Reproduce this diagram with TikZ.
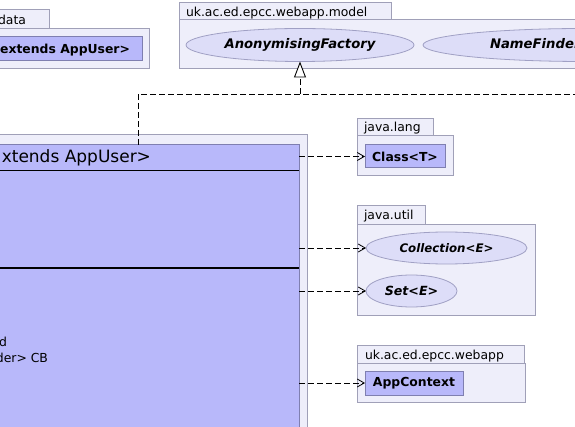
\documentclass[tikz,border=0pt]{standalone}
\usepackage{fontspec}
\setmainfont{DejaVu Sans}
\usetikzlibrary{arrows.meta,shapes.geometric}
\definecolor{pkgfill}{HTML}{EEEEFA}
\definecolor{pkgline}{HTML}{A0A0B8}
\definecolor{clsfill}{HTML}{B8B8FA}
\definecolor{clsline}{HTML}{7F7FB0}
\definecolor{elfill}{HTML}{DDDDF8}
\definecolor{elline}{HTML}{A0A0C4}
\newcommand\lblfont{\fontsize{12.4}{14}\selectfont}
\newcommand\hdrfont{\fontsize{17}{20}\selectfont}
\tikzset{
  pkg/.style={draw=pkgline, fill=pkgfill, line width=1pt, inner sep=0pt, outer sep=0pt, anchor=north west},
  cls/.style={draw=clsline, fill=clsfill, line width=1pt, inner sep=0pt, outer sep=0pt, font=\lblfont\bfseries},
  iface/.style={ellipse, draw=elline, fill=elfill, line width=0.8pt, inner sep=0pt, outer sep=0pt, minimum height=33pt, font=\lblfont\bfseries\itshape},
  txt/.style={inner sep=0pt, outer sep=0pt, font=\lblfont},
  dashline/.style={line width=0.9pt, dash pattern=on 6pt off 3pt},
  dep/.style={dashline, -{Straight Barb[length=7pt,width=8pt,line width=0.8pt]}},
  real/.style={dashline, -{Triangle[open,length=16pt,width=12pt,line width=0.9pt,fill=white]}},
  sep/.style={line width=1pt, black},
}
\begin{document}
\begin{tikzpicture}[x=1pt,y=-1pt]
\useasboundingbox (0,0) rectangle (575,427);
\clip (0,0) rectangle (575,427);
% top-left package (data)
\node[pkg, minimum width=249pt, minimum height=40pt] (pdata) at (-100,29) {};
\node[pkg, minimum width=109pt, minimum height=19pt] (tdata) at (-60,10) {};
\node[txt, anchor=base east] (ldata) at (26,25) {data};
\node[cls, minimum width=232pt, minimum height=24pt, anchor=north west] (cdata) at (-90,37) {};
\node[txt, font=\lblfont\bfseries, anchor=base east] (ncdata) at (130,53.5) {extends AppUser>};
% top-middle package (model)
\node[pkg, minimum width=421pt, minimum height=49pt] (pmodel) at (179,20) {};
\node[pkg, minimum width=212pt, minimum height=17pt] (tmodel) at (179,3) {};
\node[txt, anchor=base west] (lmodel) at (186,16.5) {uk.ac.ed.epcc.webapp.model};
\node[iface, minimum width=228pt, font=\fontsize{13.2}{15}\selectfont\bfseries\itshape] (anon) at (300,45) {AnonymisingFactory};
\node[iface, minimum width=322pt] (namef) at (584,45) {};
\node[txt, font=\fontsize{13.2}{15}\selectfont\bfseries\itshape, anchor=base west] (namefl) at (anon.base -| 490,0) {NameFinder};
% main package and class
\node[pkg, minimum width=507pt, minimum height=400pt] (pmain) at (-200,135) {};
\node[cls, minimum width=489pt, minimum height=400pt, anchor=north west] (main) at (-190,145) {};
\draw[sep] (main.west |- 0,171) -- (main.east |- 0,171);
\draw[sep, line width=1.6pt] (main.west |- 0,268) -- (main.east |- 0,268);
\node[txt, font=\hdrfont, anchor=base east] (mainhdr) at (151,163) {xtends AppUser>};
\node[txt, anchor=base east] (mainf1) at (7,346) {d};
\node[txt, anchor=base east] (mainf2) at (48,362) {der> CB};
% java.lang
\node[pkg, minimum width=96pt, minimum height=40pt] (plang) at (357,136) {};
\node[pkg, minimum width=76pt, minimum height=17pt] (tlang) at (357,119) {};
\node[txt, anchor=base west] (llang) at (364,131.7) {java.lang};
\node[cls, minimum width=80pt, minimum height=23pt] (classT) at (405,156.5) {Class<T>};
% java.util
\node[pkg, minimum width=178pt, minimum height=90pt] (putil) at (357,225) {};
\node[pkg, minimum width=68pt, minimum height=19pt] (tutil) at (357,206) {};
\node[txt, anchor=base west] (lutil) at (364,220) {java.util};
\node[iface, minimum width=161pt, minimum height=32pt, font=\fontsize{11.8}{14}\selectfont\bfseries\itshape] (coll) at (446.5,248) {Collection<E>};
\node[iface, minimum width=91pt, minimum height=32pt, font=\fontsize{12.6}{14}\selectfont\bfseries\itshape] (setE) at (411.5,291) {Set<E>};
% webapp
\node[pkg, minimum width=168pt, minimum height=39pt] (pweb) at (357,363) {};
\node[pkg, minimum width=167pt, minimum height=18pt] (tweb) at (357,345) {};
\node[txt, anchor=base west] (lweb) at (365,359) {uk.ac.ed.epcc.webapp};
\node[cls, minimum width=98pt, minimum height=24pt] (appctx) at (414,383) {AppContext};
% dependencies
\draw[dep] (classT.west -| main.east) -- (classT.west);
\draw[dep] (coll.west -| main.east) -- (coll.west);
\draw[dep] (setE.west -| main.east) -- (setE.west);
\draw[dep] (appctx.west -| main.east) -- (appctx.west);
% realization
\coordinate (bend) at (138,94);
\coordinate (far) at (580,94);
\draw[dashline] (bend |- main.north) -- (bend) -- (far);
\draw[real] (anon.south |- bend) -- (anon.south);
\end{tikzpicture}
\end{document}
